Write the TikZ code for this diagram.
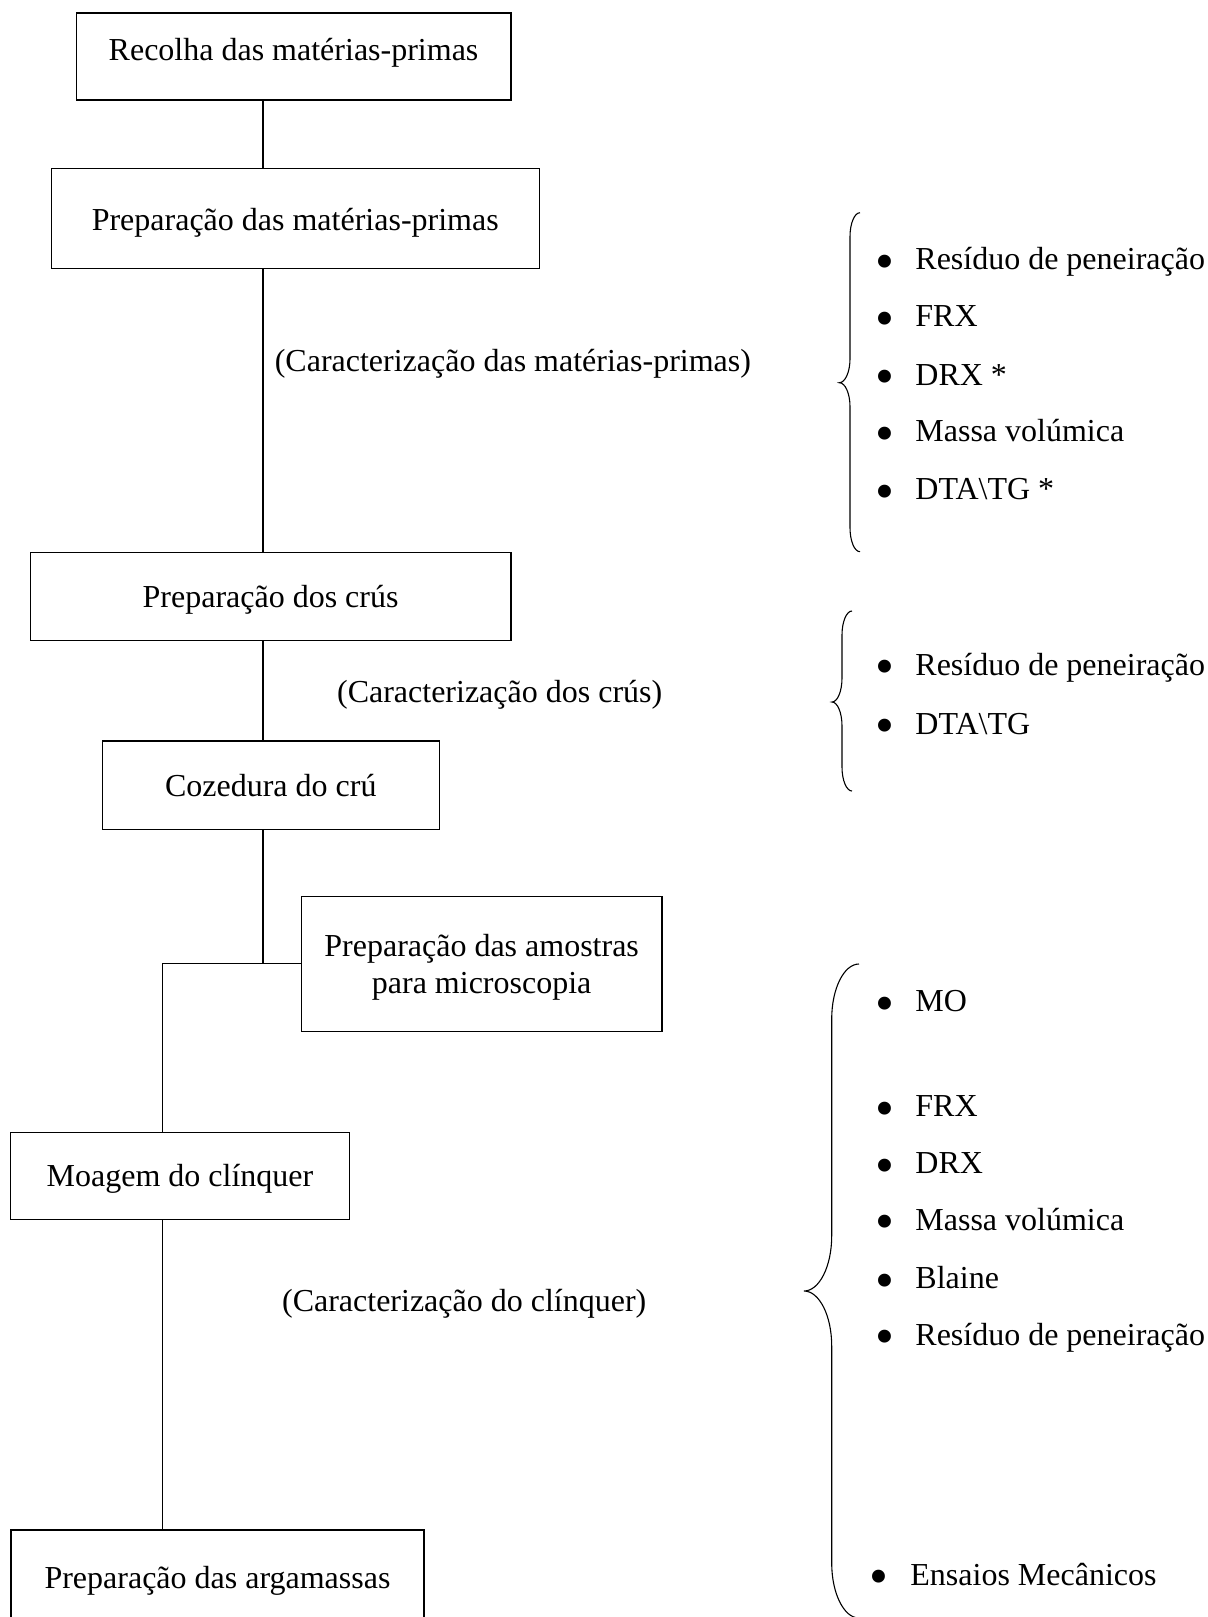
\documentclass[tikz,border=0pt]{standalone}
\usepackage{fontspec}
\setmainfont{Liberation Serif}
\newcommand{\mybrace}[8]{% xe yt xv xt ym yb r r2
  \draw[bracestyle] (#1,#2) .. controls ({#1-0.552*(#1-#3)},#2) and (#3,{#2+0.448*#7}) .. (#3,{#2+#7})
   -- (#3,{#5-#8}) .. controls (#3,{#5-0.448*#8}) and ({#4+0.552*(#3-#4)},#5) .. (#4,#5)
   .. controls ({#4+0.552*(#3-#4)},#5) and (#3,{#5+0.448*#8}) .. (#3,{#5+#8})
   -- (#3,{#6-#7}) .. controls (#3,{#6-0.448*#7}) and ({#1-0.552*(#1-#3)},#6) .. (#1,#6);}
\newcommand{\bigbul}{\makebox[0pt]{\raisebox{-4.9pt}{\fontsize{27}{27}\selectfont •}}}
\begin{document}
\begin{tikzpicture}[x=0.5pt,y=-0.5pt,
  font=\fontsize{16}{18.3}\selectfont,
  box/.style={draw,line width=0.6pt,inner sep=0pt,align=center},
  boxt/.style={box,text height=16pt,text depth=5pt},
  conn/.style={line width=0.6pt},
  bracestyle/.style={line width=0.55pt},
  txt/.style={inner sep=0pt,anchor=base west},
  item/.style={txt}]
\useasboundingbox (0,0) rectangle (1208,1617);

% boxes
\node[boxt,minimum width=217.35pt,minimum height=43.5pt,text depth=12.3pt] (b1) at (293.55,56.4) {Recolha das matérias-primas};
\node[boxt,minimum width=243.95pt,minimum height=49.75pt,text depth=4.45pt] (b2) at (295.25,218.45) {Preparação das matérias-primas};
\node[boxt,minimum width=240.4pt,minimum height=44.2pt] (b3) at (270.6,596.4) {Preparação dos crús};
\node[boxt,minimum width=168.5pt,minimum height=44.15pt,text depth=5.15pt] (b4) at (270.8,785.15) {Cozedura do crú};
\node[box,minimum width=180.35pt,minimum height=67.5pt] (b5) at (481.65,964.2) {\rule{0pt}{14pt}Preparação das amostras\\para microscopia};
\node[boxt,minimum width=169.65pt,minimum height=43.5pt,text depth=5.1pt] (b6) at (179.95,1175.8) {Moagem do clínquer};
\node[boxt,minimum width=206.5pt,minimum height=47pt,text depth=4.7pt] (b7) at (217.5,1577) {Preparação das argamassas};

% connectors
\coordinate (sp) at (263,0);
\coordinate (j1) at (263,963.7);
\coordinate (j2) at (162.4,963.7);
\draw[conn] (b1.south -| sp) -- (b2.north -| sp);
\draw[conn] (b2.south -| sp) -- (b3.north -| sp);
\draw[conn] (b3.south -| sp) -- (b4.north -| sp);
\draw[conn] (b4.south -| j1) -- (j1);
\draw[conn] (j2) -- (b5.west |- j2);
\draw[conn] (j2) -- (b6.north -| j2);
\draw[conn] (b6.south -| j2) -- (b7.north -| j2);

% labels
\node[txt] (l1) at (274.4,371) {(Caracterização das matérias-primas)};
\node[txt] (l2) at (336.7,702) {(Caracterização dos crús)};
\node[txt] (l3) at (281.7,1311.7) {(Caracterização do clínquer)};

% braces
\mybrace{860}{212.7}{850}{839.3}{382.7}{551.7}{24}{24}
\mybrace{852}{611}{842}{832}{702}{791}{24}{24}
\mybrace{859}{964}{831.7}{804}{1291}{1618}{55}{55}

% item lists
\node[item] (a1) at (885,269.3) {\bigbul\hspace{15pt}Resíduo de peneiração};
\node[item] (a2) at (885,326.7) {\bigbul\hspace{15pt}FRX};
\node[item] (a3) at (885,385) {\bigbul\hspace{15pt}DRX *};
\node[item] (a4) at (885,441.7) {\bigbul\hspace{15pt}Massa volúmica};
\node[item] (a5) at (885,499.3) {\bigbul\hspace{15pt}DTA\textbackslash TG *};

\node[item] (c1) at (885,675) {\bigbul\hspace{15pt}Resíduo de peneiração};
\node[item] (c2) at (885,734) {\bigbul\hspace{15pt}DTA\textbackslash TG};

\node[item] (d1) at (885,1011.7) {\bigbul\hspace{15pt}MO};
\node[item] (d2) at (885,1116.7) {\bigbul\hspace{15pt}FRX};
\node[item] (d3) at (885,1173.3) {\bigbul\hspace{15pt}DRX};
\node[item] (d4) at (885,1230) {\bigbul\hspace{15pt}Massa volúmica};
\node[item] (d5) at (885,1288.3) {\bigbul\hspace{15pt}Blaine};
\node[item] (d6) at (885,1345) {\bigbul\hspace{15pt}Resíduo de peneiração};
\node[item] (d7) at (878.3,1585) {\bigbul\hspace{15.85pt}Ensaios Mecânicos};
\end{tikzpicture}
\end{document}
